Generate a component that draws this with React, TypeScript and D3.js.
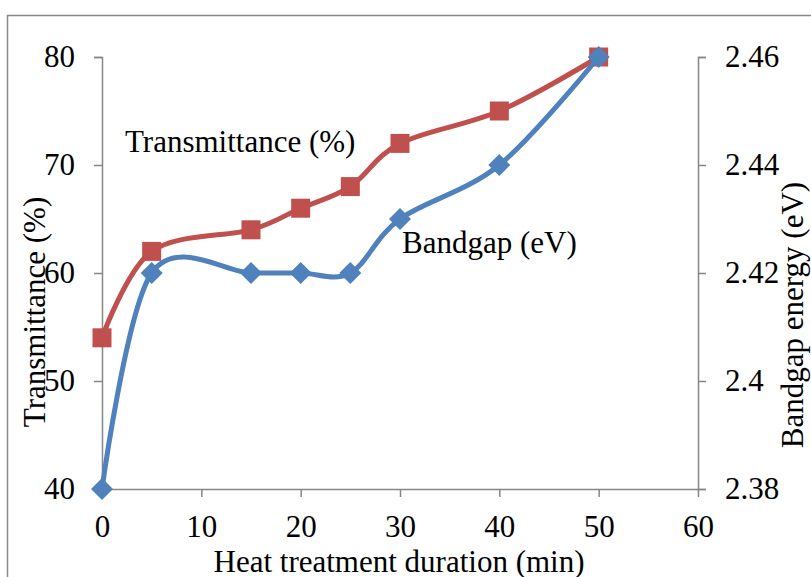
import React, { useRef, useEffect } from "react";
import * as d3 from "d3";

const durations = [0, 5, 15, 20, 25, 30, 40, 50];
const transmittance = [54, 62, 64, 66, 68, 72, 75, 80];
const bandgap = [2.38, 2.42, 2.42, 2.42, 2.42, 2.43, 2.44, 2.46];

const xTicks = [0, 10, 20, 30, 40, 50, 60];
const leftTicks = [40, 50, 60, 70, 80];
const rightTicks = [2.38, 2.4, 2.42, 2.44, 2.46];

const red = "#C0504D";
const blue = "#4F81BD";
const axisGray = "#868686";

const App = () => {
  const chartRef = useRef<SVGSVGElement>(null);

  const width = 811,
    height = 577,
    plotLeft = 102,
    plotRight = 698,
    plotTop = 57,
    plotBottom = 489,
    fontSize = 31;

  useEffect(() => {
    if (!chartRef.current) return;
    const svg = d3.select(chartRef.current);
    svg.selectAll("*").remove();

    const x = d3.scaleLinear().domain([0, 60]).range([plotLeft, plotRight]);
    const yLeft = d3
      .scaleLinear()
      .domain([40, 80])
      .range([plotBottom, plotTop]);
    const yRight = d3
      .scaleLinear()
      .domain([2.38, 2.46])
      .range([plotBottom, plotTop]);

    // outer chart border (runs off the right and bottom of the picture)
    svg
      .append("rect")
      .attr("x", 7.5)
      .attr("y", 15.5)
      .attr("width", width + 20)
      .attr("height", height + 20)
      .attr("fill", "#fff")
      .attr("stroke", "#898989")
      .attr("stroke-width", 1.5);

    const styleAxis = (g: any) => {
      g.select(".domain").attr("stroke", axisGray).attr("stroke-width", 1.5);
      g.selectAll(".tick line")
        .attr("stroke", axisGray)
        .attr("stroke-width", 1.5);
      g.selectAll(".tick text")
        .attr("fill", "#000")
        .style("font-family", "'Liberation Serif', 'Times New Roman', serif")
        .style("font-size", `${fontSize}px`);
    };

    svg
      .append("g")
      .attr("transform", `translate(0,${plotBottom})`)
      .call(
        d3
          .axisBottom(x)
          .tickValues(xTicks)
          .tickSizeInner(8)
          .tickSizeOuter(0)
          .tickPadding(18)
      )
      .call(styleAxis);

    svg
      .append("g")
      .attr("transform", `translate(${plotLeft},0)`)
      .call(
        d3
          .axisLeft(yLeft)
          .tickValues(leftTicks)
          .tickSizeInner(8)
          .tickSizeOuter(8)
          .tickPadding(19)
      )
      .call(styleAxis);

    svg
      .append("g")
      .attr("transform", `translate(${plotRight},0)`)
      .call(
        d3
          .axisRight(yRight)
          .tickValues(rightTicks)
          .tickFormat((d: any) => `${+d}`)
          .tickSizeInner(8)
          .tickSizeOuter(8)
          .tickPadding(19)
      )
      .call(styleAxis);

    const smooth = d3.curveCatmullRom.alpha(0);

    const redLine = d3
      .line<number>()
      .x((_, i) => x(durations[i]))
      .y((d) => yLeft(d))
      .curve(smooth);
    const blueLine = d3
      .line<number>()
      .x((_, i) => x(durations[i]))
      .y((d) => yRight(d))
      .curve(smooth);

    svg
      .append("path")
      .attr("d", redLine(transmittance))
      .attr("fill", "none")
      .attr("stroke", red)
      .attr("stroke-width", 5)
      .attr("stroke-linejoin", "round");

    svg
      .selectAll(".sq")
      .data(transmittance)
      .join("rect")
      .attr("class", "sq")
      .attr("x", (_, i) => x(durations[i]) - 9.5)
      .attr("y", (d) => yLeft(d) - 9.5)
      .attr("width", 19)
      .attr("height", 19)
      .attr("fill", red);

    svg
      .append("path")
      .attr("d", blueLine(bandgap))
      .attr("fill", "none")
      .attr("stroke", blue)
      .attr("stroke-width", 5)
      .attr("stroke-linejoin", "round");

    svg
      .selectAll(".dm")
      .data(bandgap)
      .join("path")
      .attr("class", "dm")
      .attr("d", "M0,-11L11,0L0,11L-11,0Z")
      .attr(
        "transform",
        (d, i) => `translate(${x(durations[i])},${yRight(d)})`
      )
      .attr("fill", blue);

    const text = (
      tx: number,
      ty: number,
      label: string,
      anchor: string,
      rotate = 0
    ) =>
      svg
        .append("text")
        .attr("transform", `translate(${tx},${ty}) rotate(${rotate})`)
        .attr("text-anchor", anchor)
        .attr("fill", "#000")
        .style("font-family", "'Liberation Serif', 'Times New Roman', serif")
        .style("font-size", `${fontSize}px`)
        .text(label);

    text(125, 152, "Transmittance (%)", "start");
    text(402, 253, "Bandgap (eV)", "start");
    text(399, 572, "Heat treatment duration (min)", "middle");
    text(45, 312, "Transmittance (%)", "middle", -90);
    text(803, 315, "Bandgap energy (eV)", "middle", -90);
  }, []);

  return (
    <svg
      ref={chartRef}
      width={width}
      height={height}
      style={{ position: "absolute", left: 0, top: 0, background: "#fff" }}
    ></svg>
  );
};

export default App;
